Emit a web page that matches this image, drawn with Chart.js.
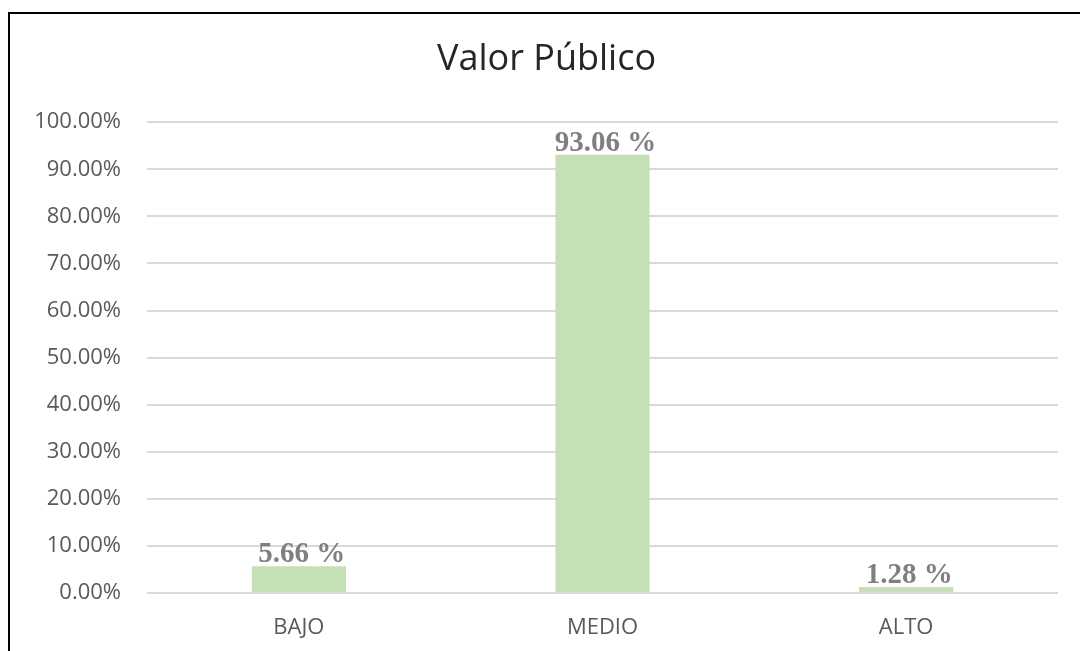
<!DOCTYPE html>
<html>
<head>
<meta charset="utf-8">
<script src="https://cdn.jsdelivr.net/npm/chart.js@4.4.1/dist/chart.umd.min.js"></script>
<style>
  html, body { margin: 0; padding: 0; background: #fff; }
  #wrap { position: relative; width: 1080px; height: 651px; overflow: hidden; }
  #frame { position: absolute; left: 8px; top: 12px; width: 1090px; height: 700px; border-left: 2px solid #000; border-top: 2px solid #000; }
  #chart { position: absolute; left: 0; top: 0; }
</style>
</head>
<body>
<div id="wrap">
  <div id="frame"></div>
  <canvas id="chart" width="1080" height="651"></canvas>
</div>
<script>
// chart data
const categories = ['BAJO', 'MEDIO', 'ALTO'];
const shares = [0.0566, 0.9306, 0.0128];
const shareLabels = ['5.66 %', '93.06 %', '1.28 %'];
const chartTitle = 'Valor Público';

// draws the value text above each bar
const barLabels = {
  id: 'barLabels',
  afterDatasetsDraw(chart) {
    const ctx = chart.ctx;
    const meta = chart.getDatasetMeta(0);
    ctx.save();
    ctx.font = 'bold 29px "Liberation Serif", "Times New Roman", serif';
    ctx.fillStyle = '#7f7f7f';
    ctx.textAlign = 'center';
    ctx.textBaseline = 'alphabetic';
    meta.data.forEach((bar, i) => {
      ctx.fillText(shareLabels[i], bar.x + 3, bar.y - 4);
    });
    ctx.restore();
  }
};

const ctx = document.getElementById('chart').getContext('2d');
new Chart(ctx, {
  type: 'bar',
  data: {
    labels: categories,
    datasets: [{
      data: shares,
      backgroundColor: '#c5e0b4',
      categoryPercentage: 1,
      barPercentage: 0.31
    }]
  },
  options: {
    responsive: false,
    animation: false,
    // left padding pushes the title centre to match the original
    layout: { padding: { left: 35, right: 22, top: 0, bottom: 0 } },
    plugins: {
      legend: { display: false },
      tooltip: { enabled: false },
      title: {
        display: true,
        text: chartTitle,
        color: '#262626',
        font: { family: '"Open Sans", "Noto Sans", sans-serif', size: 36, weight: 'normal' },
        padding: { top: 38, bottom: 41 }
      }
    },
    scales: {
      x: {
        grid: { display: false, drawTicks: false },
        border: { display: false },
        ticks: {
          color: '#595959',
          font: { family: '"Open Sans", "Noto Sans", sans-serif', size: 22 },
          padding: 22
        },
        afterFit(scale) { scale.height = 58; }
      },
      y: {
        min: 0,
        max: 1,
        grid: { color: '#d9d9d9', lineWidth: 2, drawTicks: false },
        border: { display: false },
        ticks: {
          stepSize: 0.1,
          color: '#595959',
          font: { family: '"Open Sans", "Noto Sans", sans-serif', size: 22 },
          padding: 26,
          callback: v => (v * 100).toFixed(2) + '%'
        },
        afterFit(scale) { scale.width = 112; }
      }
    }
  },
  plugins: [barLabels]
});
</script>
</body>
</html>
